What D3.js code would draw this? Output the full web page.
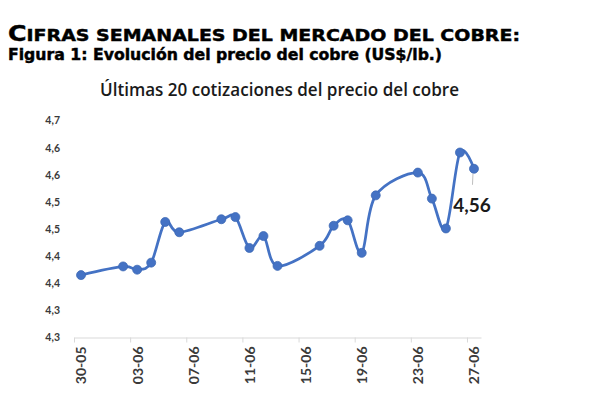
<!DOCTYPE html>
<html>
<head>
<meta charset="utf-8">
<script src="https://cdn.jsdelivr.net/npm/d3@7/dist/d3.min.js"></script>
<style>
  html, body { margin: 0; padding: 0; background: #fff; }
  svg { display: block; }
  .head { font-family: "DejaVu Sans", Verdana, sans-serif; font-weight: bold; fill: #000; stroke: #000; stroke-width: 0.45; }
  .chart-title { font-family: "Open Sans", Lato, sans-serif; font-weight: 600; fill: #1a1a1a; }
  .axis text { font-family: Lato, "Open Sans", sans-serif; font-weight: bold; fill: #3a3a3a; }
  .axis-x path, .axis-x line { stroke: #d9d9d9; }
  .axis-y path, .axis-y line { display: none; }
</style>
</head>
<body>
<div id="chart"></div>
<script>
// fechas de cotización (2025) y precio en US$/lb
const dates = [
  "2025-05-30",
  "2025-06-02", "2025-06-03", "2025-06-04", "2025-06-05", "2025-06-06",
  "2025-06-09", "2025-06-10", "2025-06-11", "2025-06-12", "2025-06-13",
  "2025-06-16", "2025-06-17", "2025-06-18", "2025-06-19", "2025-06-20",
  "2025-06-23", "2025-06-24", "2025-06-25", "2025-06-26", "2025-06-27",
];
const prices = [
  4.365,
  4.381, 4.375, 4.388, 4.463, 4.444,
  4.468, 4.472, 4.415, 4.437, 4.382,
  4.419, 4.456, 4.466, 4.406, 4.512,
  4.554, 4.506, 4.451, 4.591, 4.561,
];

const yTicks = [4.25, 4.3, 4.35, 4.4, 4.45, 4.5, 4.55, 4.6, 4.65];
const yTickLabels = ["4,3", "4,3", "4,4", "4,4", "4,5", "4,5", "4,6", "4,6", "4,7"];
const xTickDates = ["2025-05-30", "2025-06-03", "2025-06-07", "2025-06-11",
  "2025-06-15", "2025-06-19", "2025-06-23", "2025-06-27"];
const xDomain = ["2025-05-30", "2025-06-28"];

const parse = d3.timeParse("%Y-%m-%d");
const data = dates.map((d, i) => ({ date: parse(d), value: prices[i] }));

const width = 607, height = 398;
const color = "#4472c4";

const svg = d3.select("#chart").append("svg")
  .attr("width", width)
  .attr("height", height);

// encabezado
const h1 = svg.append("text").attr("class", "head")
  .attr("x", 8).attr("y", 41)
  .attr("textLength", 512).attr("lengthAdjust", "spacingAndGlyphs");
h1.append("tspan").attr("font-size", 22).text("C");
h1.append("tspan").attr("font-size", 16.5).text("IFRAS SEMANALES DEL MERCADO DEL COBRE:");

svg.append("text").attr("class", "head")
  .attr("x", 8).attr("y", 60)
  .attr("font-size", 15.5)
  .attr("stroke-width", 0.3)
  .attr("textLength", 434).attr("lengthAdjust", "spacingAndGlyphs")
  .text("Figura 1: Evolución del precio del cobre (US$/lb.)");

svg.append("text").attr("class", "chart-title")
  .attr("x", 100).attr("y", 96)
  .attr("font-size", 17.5)
  .attr("textLength", 359).attr("lengthAdjust", "spacingAndGlyphs")
  .text("Últimas 20 cotizaciones del precio del cobre");

const x = d3.scaleTime()
  .domain(xDomain.map(parse))
  .range([74, 481]);

const y = d3.scaleLinear()
  .domain([4.25, 4.65])
  .range([337.5, 120.5]);

// los puntos van a mitad del día (eje de fechas entre marcas)
const mid = (d) => x(d3.timeHour.offset(d, 12));
const halfDay = x(d3.timeHour.offset(parse(xDomain[0]), 12)) - x(parse(xDomain[0]));

const axisY = svg.append("g").attr("class", "axis axis-y")
  .attr("transform", "translate(62,0)")
  .call(d3.axisLeft(y)
    .tickValues(yTicks)
    .tickFormat((d, i) => yTickLabels[i])
    .tickSize(0)
    .tickPadding(2));
axisY.selectAll("text").attr("font-size", 10.5);

const axisX = svg.append("g").attr("class", "axis axis-x")
  .attr("transform", `translate(0,${y(4.25)})`)
  .call(d3.axisBottom(x)
    .tickValues(xTickDates.map(parse))
    .tickFormat(d3.timeFormat("%d-%m"))
    .tickSize(5)
    .tickSizeOuter(0));
axisX.select(".domain").attr("stroke", "#d9d9d9");
axisX.selectAll("text")
  .attr("font-size", 14)
  .attr("transform", `translate(${halfDay},0) rotate(-90)`)
  .attr("text-anchor", "end")
  .attr("x", -9)
  .attr("y", 0)
  .attr("dy", "0.35em");

const line = d3.line()
  .x((d) => mid(d.date))
  .y((d) => y(d.value))
  .curve(d3.curveCatmullRom.alpha(0));

svg.append("path")
  .datum(data)
  .attr("fill", "none")
  .attr("stroke", color)
  .attr("stroke-width", 2.75)
  .attr("d", line);

svg.append("g").selectAll("circle")
  .data(data)
  .join("circle")
  .attr("cx", (d) => mid(d.date))
  .attr("cy", (d) => y(d.value))
  .attr("r", 4.5)
  .attr("fill", color)
  .attr("stroke", "#3b67b3")
  .attr("stroke-width", 0.75);

// etiqueta del último valor
const last = data[data.length - 1];
svg.append("line")
  .attr("x1", mid(last.date) - 1).attr("y1", y(last.value) + 5)
  .attr("x2", mid(last.date) - 1.5).attr("y2", y(last.value) + 16)
  .attr("stroke", "#bfbfbf")
  .attr("stroke-width", 1);

svg.append("text")
  .attr("x", mid(last.date) - 2)
  .attr("y", y(last.value) + 43)
  .attr("text-anchor", "middle")
  .attr("font-family", "Lato, 'Open Sans', sans-serif")
  .attr("font-weight", "bold")
  .attr("font-size", 19)
  .attr("fill", "#1a1a1a")
  .text(d3.format(".2f")(last.value).replace(".", ","));
</script>
</body>
</html>
